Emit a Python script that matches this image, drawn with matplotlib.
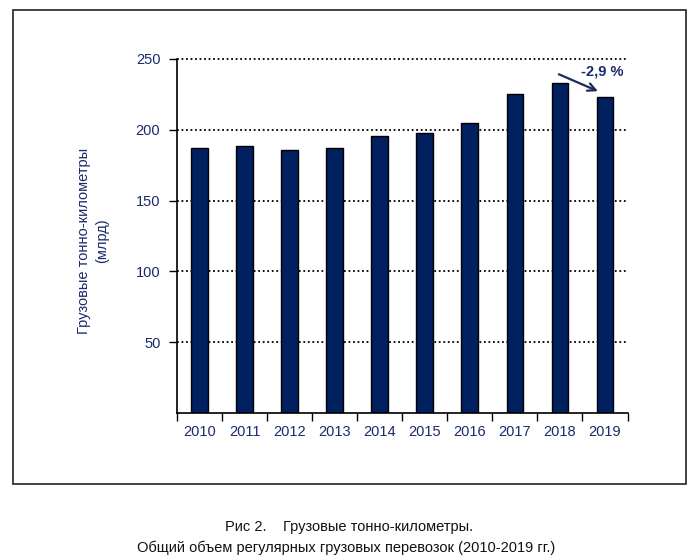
import matplotlib
matplotlib.use("Agg")
import matplotlib.pyplot as plt
from matplotlib.patches import Rectangle
import numpy as np

years = ["2010", "2011", "2012", "2013", "2014", "2015", "2016", "2017", "2018", "2019"]
values = [187.5, 188.5, 186, 187, 195.5, 198, 205, 225.5, 233, 223]
yticks = [50, 100, 150, 200, 250]
annot_text = "-2,9 %"

plt.rcParams['font.family'] = ['Liberation Sans', 'DejaVu Sans']
txt_color = '#1b2a6b'
bar_color = '#002060'

W, H = 692, 560
fig = plt.figure(figsize=(W / 100, H / 100), dpi=100)

def fx(px):
    return px / W

def fy(py):
    return 1 - py / H

# outer frame
fig.patches.append(Rectangle((fx(12.5), fy(484)), fx(685.5) - fx(12.5), fy(9.5) - fy(484),
                             transform=fig.transFigure, fill=False, edgecolor='#222222',
                             linewidth=1.2, zorder=0))

ax = fig.add_axes([fx(177), fy(413), fx(627.5) - fx(177), fy(59) - fy(413)])
x = np.arange(len(years))
ax.bar(x, values, width=0.37, color=bar_color, edgecolor='black', linewidth=1.0, zorder=3)
ax.set_xlim(-0.5, len(years) - 0.5)
ax.set_ylim(0, 250)

for t in yticks:
    ax.axhline(t, color='black', linestyle=(0, (1, 1.5)), linewidth=1.3, zorder=1,
               clip_on=False)

ax.set_yticks(yticks)
ax.set_yticklabels([str(t) for t in yticks], color=txt_color, fontsize=10.5)
ax.set_xticks(x)
ax.set_xticklabels(years, color=txt_color, fontsize=10.5)
ax.tick_params(axis='x', length=0, pad=9)
ax.set_xticks(np.arange(len(years) + 1) - 0.5, minor=True)
ax.tick_params(axis='x', which='minor', length=6, direction='out', width=1)
ax.tick_params(axis='y', length=6, direction='out', width=1, pad=6)
for s in ['top', 'right']:
    ax.spines[s].set_visible(False)
for s in ['left', 'bottom']:
    ax.spines[s].set_linewidth(1.2)
    ax.spines[s].set_zorder(4)

fig.text(fx(93), fy(241), "Грузовые тонно-километры\n(млрд)", rotation=90,
         ha='center', va='center', color=txt_color, fontsize=10.5, linespacing=1.3,
         multialignment='center')

# annotation
ax.annotate("", xy=(8.9, 226.5), xytext=(7.92, 240),
            arrowprops=dict(arrowstyle='->', color='#1b2a5b', lw=1.6,
                            mutation_scale=14), zorder=5)
ax.text(8.95, 241.5, annot_text, ha='center', va='center',
        color=txt_color, fontsize=10.5, fontweight='bold')

fig.text(0.505, fy(527), "Рис 2.    Грузовые тонно-километры.", ha='center', va='center',
         fontsize=10.5, color='#111111')
fig.text(0.5, fy(548), "Общий объем регулярных грузовых перевозок (2010-2019 гг.)",
         ha='center', va='center', fontsize=10.5, color='#111111')

fig.savefig("out.png", dpi=100)
